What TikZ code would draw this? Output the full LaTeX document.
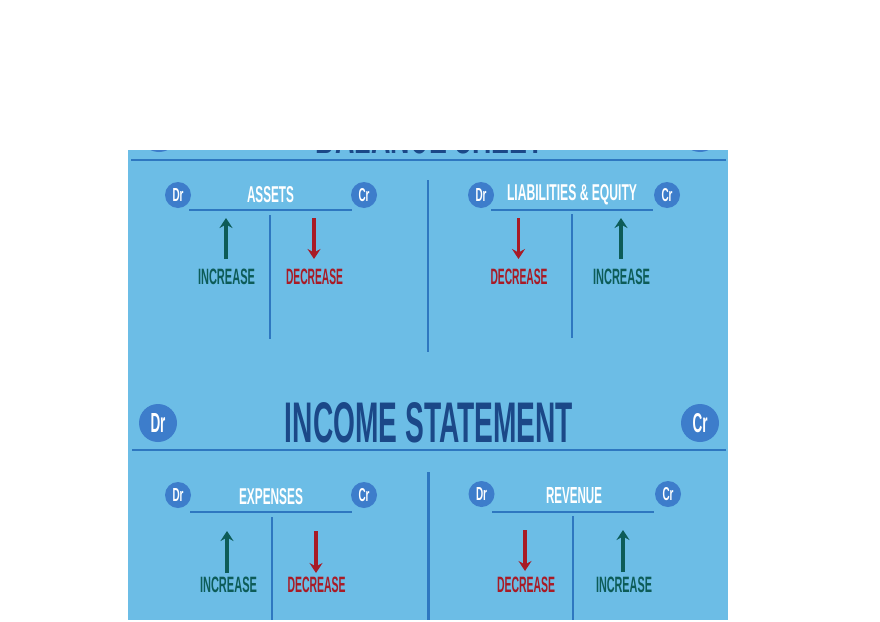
\documentclass[tikz,border=0pt]{standalone}
\usepackage{fontspec}
\setmainfont{Liberation Sans}
\usetikzlibrary{arrows.meta}
\definecolor{bgblue}{HTML}{6CBDE6}
\definecolor{lineblue}{HTML}{2E77C0}
\definecolor{circblue}{HTML}{3D7DCB}
\definecolor{titleblue}{HTML}{1B4888}
\definecolor{upgreen}{HTML}{0D5C58}
\definecolor{downred}{HTML}{A81B26}
\newcommand\fitbox[3]{\resizebox{#1}{#2}{\bfseries #3}}
\tikzset{
  lbl/.style={inner sep=0pt, outer sep=0pt},
  smallcirc/.style={circle, fill=circblue, inner sep=0pt, minimum size=26pt, text=white},
  bigcirc/.style={circle, fill=circblue, inner sep=0pt, minimum size=38pt, text=white},
  rulethick/.style={draw=lineblue, line width=2.6pt},
  rulethin/.style={draw=lineblue, line width=2pt},
  uparr/.style={draw=upgreen, line width=3.6pt, -{Stealth[length=10pt,width=13pt,inset=3.5pt]}},
  downarr/.style={draw=downred, line width=3.6pt, -{Stealth[length=10pt,width=13pt,inset=3.5pt]}},
}
\begin{document}
\begin{tikzpicture}[x=1pt,y=-1pt]
\useasboundingbox (0,0) rectangle (880,621);
\fill[white] (0,0) rectangle (880,621);
\fill[bgblue] (128,150) rectangle (728,620);

% clipped remains of the balance sheet header
\begin{scope}
\clip (128,150) rectangle (728,620);
\node[lbl, anchor=south, text=titleblue] (bstitle) at (430,154.5) {\fitbox{228pt}{40pt}{BALANCE SHEET}};
\node[bigcirc] (bsdr) at (159,133) {};
\node[bigcirc] (bscr) at (700,133) {};
\end{scope}

% header rules and dividers
\coordinate (topL) at (131,160);
\coordinate (topR) at (726,160);
\draw[rulethick] (topL) -- (topR);
\coordinate (div1t) at (428,180);
\coordinate (div1b) at (428,352);
\draw[rulethick] (div1t) -- (div1b);

% ---------- ASSETS ----------
\node[smallcirc] (adr) at (178,195) {\fitbox{11pt}{13pt}{Dr}};
\node[smallcirc] (acr) at (364,195) {\fitbox{11pt}{13pt}{Cr}};
\node[lbl, text=white] (assets) at (270.5,195) {\fitbox{47pt}{16pt}{ASSETS}};
\coordinate (ahl) at (189,209.5);
\coordinate (ahr) at (352,209.5);
\draw[rulethin] (ahl) -- (ahr);
\coordinate (avt) at (270,215);
\coordinate (avb) at (270,339);
\draw[rulethin] (avt) -- (avb);
\coordinate (aus) at (226,259);
\coordinate (aue) at (226,218);
\draw[uparr] (aus) -- (aue);
\node[lbl, text=upgreen] (ainc) at (226.5,277) {\fitbox{57pt}{15.5pt}{INCREASE}};
\coordinate (ads) at (314,218);
\coordinate (ade) at (314,259);
\draw[downarr] (ads) -- (ade);
\node[lbl, text=downred] (adec) at (314.5,277) {\fitbox{57pt}{15.5pt}{DECREASE}};

% ---------- LIABILITIES & EQUITY ----------
\node[smallcirc] (ldr) at (481,195) {\fitbox{11pt}{13pt}{Dr}};
\node[smallcirc] (lcr) at (667,195) {\fitbox{11pt}{13pt}{Cr}};
\node[lbl, text=white] (liab) at (572,194.5) {\fitbox{130pt}{16pt}{LIABILITIES \& EQUITY}};
\coordinate (lhl) at (491,209.5);
\coordinate (lhr) at (653,209.5);
\draw[rulethin] (lhl) -- (lhr);
\coordinate (lvt) at (572,214);
\coordinate (lvb) at (572,338);
\draw[rulethin] (lvt) -- (lvb);
\coordinate (lds) at (518.5,218);
\coordinate (lde) at (518.5,259);
\draw[downarr] (lds) -- (lde);
\node[lbl, text=downred] (ldec) at (519,277) {\fitbox{57pt}{15.5pt}{DECREASE}};
\coordinate (lus) at (621,259);
\coordinate (lue) at (621,218);
\draw[uparr] (lus) -- (lue);
\node[lbl, text=upgreen] (linc) at (621.5,277) {\fitbox{57pt}{15.5pt}{INCREASE}};

% ---------- INCOME STATEMENT ----------
\node[bigcirc] (idr) at (158,423) {\fitbox{15pt}{19pt}{Dr}};
\node[bigcirc] (icr) at (700,423) {\fitbox{15pt}{19pt}{Cr}};
\node[lbl, text=titleblue] (istitle) at (429,423) {\fitbox{288pt}{40pt}{INCOME STATEMENT}};
\coordinate (midL) at (132,450);
\coordinate (midR) at (726,450);
\draw[rulethick] (midL) -- (midR);
\coordinate (div2t) at (428.5,472);
\coordinate (div2b) at (428.5,620);
\draw[rulethick] (div2t) -- (div2b);

% ---------- EXPENSES ----------
\node[smallcirc] (edr) at (178,495) {\fitbox{11pt}{13pt}{Dr}};
\node[smallcirc] (ecr) at (364,495) {\fitbox{11pt}{13pt}{Cr}};
\node[lbl, text=white] (exp) at (271,497) {\fitbox{64pt}{16pt}{EXPENSES}};
\coordinate (ehl) at (190,512);
\coordinate (ehr) at (352,512);
\draw[rulethin] (ehl) -- (ehr);
\coordinate (evt) at (271.5,517);
\coordinate (evb) at (271.5,620);
\draw[rulethin] (evt) -- (evb);
\coordinate (eus) at (227,573);
\coordinate (eue) at (227,531);
\draw[uparr] (eus) -- (eue);
\node[lbl, text=upgreen] (einc) at (228.5,585) {\fitbox{57pt}{15.5pt}{INCREASE}};
\coordinate (eds) at (316,531);
\coordinate (ede) at (316,573);
\draw[downarr] (eds) -- (ede);
\node[lbl, text=downred] (edec) at (316.5,585) {\fitbox{58pt}{15.5pt}{DECREASE}};

% ---------- REVENUE ----------
\node[smallcirc] (rdr) at (481.5,494) {\fitbox{11pt}{13pt}{Dr}};
\node[smallcirc] (rcr) at (668,494) {\fitbox{11pt}{13pt}{Cr}};
\node[lbl, text=white] (rev) at (574,496) {\fitbox{56pt}{16pt}{REVENUE}};
\coordinate (rhl) at (492,512);
\coordinate (rhr) at (654,512);
\draw[rulethin] (rhl) -- (rhr);
\coordinate (rvt) at (573,516);
\coordinate (rvb) at (573,620);
\draw[rulethin] (rvt) -- (rvb);
\coordinate (rds) at (525,530);
\coordinate (rde) at (525,571);
\draw[downarr] (rds) -- (rde);
\node[lbl, text=downred] (rdec) at (526,585) {\fitbox{58pt}{15.5pt}{DECREASE}};
\coordinate (rus) at (623,572);
\coordinate (rue) at (623,530);
\draw[uparr] (rus) -- (rue);
\node[lbl, text=upgreen] (rinc) at (624,585) {\fitbox{56pt}{15.5pt}{INCREASE}};
\end{tikzpicture}
\end{document}
